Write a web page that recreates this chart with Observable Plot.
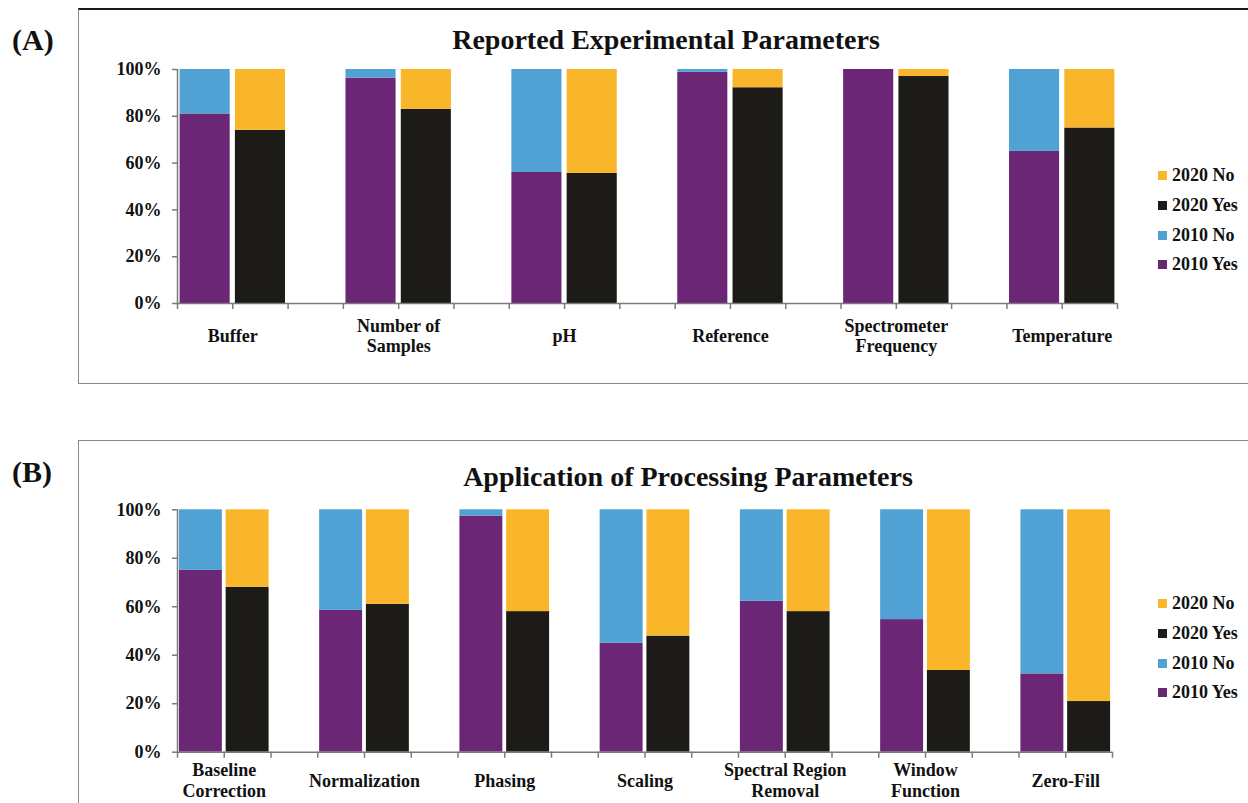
<!DOCTYPE html>
<html>
<head>
<meta charset="utf-8">
<script src="https://cdn.jsdelivr.net/npm/d3@7"></script>
<script src="https://cdn.jsdelivr.net/npm/@observablehq/plot@0.6"></script>
<style>
  body { margin: 0; background: #fff; }
  #root { position: relative; width: 1248px; height: 803px; overflow: hidden; background: #fff;
          font-family: "Liberation Serif", "Times New Roman", serif; font-weight: bold; color: #111; }
  .abs { position: absolute; }
  .frame { position: absolute; box-sizing: border-box; }
  .title { position: absolute; width: 700px; text-align: center; font-size: 28px; line-height: 28px; white-space: nowrap; }
  .tag { position: absolute; font-size: 30px; line-height: 30px; }
  .legend-row { position: absolute; height: 22px; display: flex; align-items: center; font-size: 18px; white-space: nowrap; }
  .legend-row span.sw { display: inline-block; width: 9px; height: 9px; margin-right: 5px; }
</style>
</head>
<body>
<div id="root"></div>
<script>
// ---- Data ----
const seriesNames = ["2020 No", "2020 Yes", "2010 No", "2010 Yes"];
const seriesColors = ["#F9B62A", "#1C1B17", "#4FA2D3", "#6B2775"];

const titleA = "Reported Experimental Parameters";
const categoriesA = ["Buffer", "Number of\nSamples", "pH", "Reference", "Spectrometer\nFrequency", "Temperature"];
const yes2010A = [81, 96.3, 56, 98.8, 100, 65];
const yes2020A = [74, 83, 55.6, 92.2, 97, 75];

const titleB = "Application of Processing Parameters";
const categoriesB = ["Baseline\nCorrection", "Normalization", "Phasing", "Scaling", "Spectral Region\nRemoval", "Window\nFunction", "Zero-Fill"];
const yes2010B = [75, 58.5, 97.4, 45, 62.3, 54.7, 32.3];
const yes2020B = [68, 61, 58, 47.9, 58, 33.7, 20.9];

const yTicks = [0, 20, 40, 60, 80, 100];

// ---- Helpers ----
const root = document.getElementById("root");
const colorOf = Object.fromEntries(seriesNames.map((s, i) => [s, seriesColors[i]]));

function buildRows(cats, y2010, y2020) {
  const rows = [];
  cats.forEach((c, i) => {
    const base = i * 3;
    rows.push({x1: base, x2: base + 1, y1: 0, y2: y2010[i], s: "2010 Yes"});
    rows.push({x1: base, x2: base + 1, y1: y2010[i], y2: 100, s: "2010 No"});
    rows.push({x1: base + 1, x2: base + 2, y1: 0, y2: y2020[i], s: "2020 Yes"});
    rows.push({x1: base + 1, x2: base + 2, y1: y2020[i], y2: 100, s: "2020 No"});
  });
  return rows;
}

function makePanel(cats, y2010, y2020, o) {
  const nSlots = cats.length * 3 - 1;
  const rows = buildRows(cats, y2010, y2020);
  const labels = cats.map((c, i) => ({c, x: i * 3 + 1}));
  const chart = Plot.plot({
    width: 1248,
    height: o.height,
    marginLeft: o.ml, marginRight: o.mr, marginTop: o.mt, marginBottom: o.mb,
    style: {fontFamily: '"Liberation Serif", "Times New Roman", serif', fontWeight: "bold", background: "transparent", color: "#111", overflow: "visible"},
    x: {domain: [0, nSlots], axis: null},
    y: {domain: [0, 100], axis: null},
    color: {domain: seriesNames, range: seriesColors},
    marks: [
      Plot.rect(rows, {x1: "x1", x2: "x2", y1: "y1", y2: "y2", fill: "s", insetLeft: o.inset, insetRight: o.inset}),
      Plot.ruleY([0], {stroke: "#7a7a7a", strokeWidth: 1.5}),
      Plot.ruleX([0], {stroke: "#7a7a7a", strokeWidth: 1.5}),
      Plot.axisX({ticks: d3.range(0, nSlots + 1), tickFormat: () => "", tickSize: 6, stroke: "#7a7a7a", strokeWidth: 1.5}),
      Plot.axisY({ticks: yTicks, tickFormat: d => d + "%", tickSize: 5, tickPadding: 11, fontSize: 18, fontWeight: "bold", stroke: "#7a7a7a", strokeWidth: 1.5, fill: "#111"}),
      Plot.text(labels, {x: "x", y: 0, text: "c", dy: o.labelDy, lineAnchor: "middle", lineHeight: 1.15, fontSize: 18, fontWeight: "bold", fill: "#111"})
    ]
  });
  const wrap = document.createElement("div");
  wrap.className = "abs";
  wrap.style.left = "0px";
  wrap.style.top = o.top + "px";
  wrap.appendChild(chart);
  root.appendChild(wrap);
}

function addFrame(left, top, width, height, borders) {
  const f = document.createElement("div");
  f.className = "frame";
  Object.assign(f.style, {left: left + "px", top: top + "px", width: width + "px", height: height + "px"}, borders);
  root.appendChild(f);
}

function addTitle(text, cx, top) {
  const t = document.createElement("div");
  t.className = "title";
  t.textContent = text;
  t.style.left = (cx - 350) + "px";
  t.style.top = top + "px";
  root.appendChild(t);
}

function addTag(text, left, top) {
  const t = document.createElement("div");
  t.className = "tag";
  t.textContent = text;
  t.style.left = left + "px";
  t.style.top = top + "px";
  root.appendChild(t);
}

function addLegend(left, centers) {
  seriesNames.forEach((s, i) => {
    const r = document.createElement("div");
    r.className = "legend-row";
    r.style.left = left + "px";
    r.style.top = (centers[i] - 11) + "px";
    const sw = document.createElement("span");
    sw.className = "sw";
    sw.style.background = colorOf[s];
    r.appendChild(sw);
    r.appendChild(document.createTextNode(s));
    root.appendChild(r);
  });
}

// ---- Frames ----
addFrame(78, 8, 1200, 376, {borderTop: "2px solid #1a1a1a", borderLeft: "1.5px solid #8a8a8a", borderBottom: "1.5px solid #8a8a8a"});
addFrame(78, 440, 1200, 400, {borderTop: "1.5px solid #8a8a8a", borderLeft: "1.5px solid #8a8a8a"});

// ---- Panels ----
makePanel(categoriesA, yes2010A, yes2020A, {top: 0, height: 400, ml: 177, mr: 131, mt: 69, mb: 97, inset: 2.6, labelDy: 32});
makePanel(categoriesB, yes2010B, yes2020B, {top: 420, height: 383, ml: 177, mr: 136, mt: 89.3, mb: 51.3, inset: 1.9, labelDy: 28});

// ---- Titles, tags, legends ----
addTitle(titleA, 666, 25.5);
addTitle(titleB, 688, 462.5);
addTag("(A)", 12, 25);
addTag("(B)", 12, 457);
addLegend(1158, [175, 205, 235, 264]);
addLegend(1158, [603, 633, 663, 692]);
</script>
</body>
</html>
